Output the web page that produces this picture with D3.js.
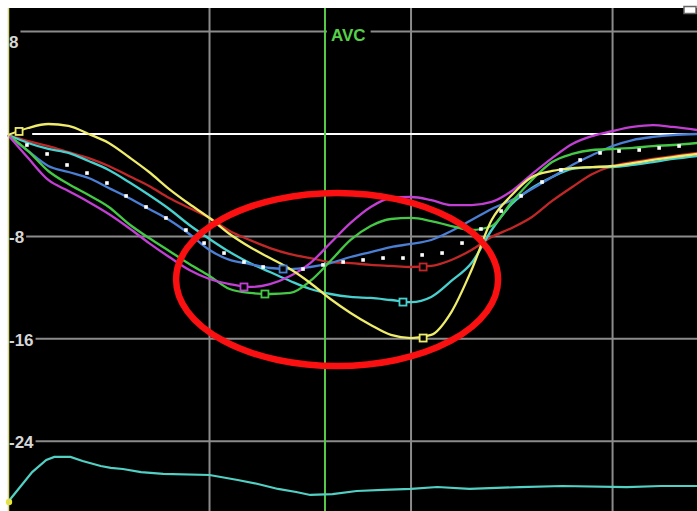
<!DOCTYPE html>
<html>
<head>
<meta charset="utf-8">
<script src="https://cdn.jsdelivr.net/npm/d3@7"></script>
<style>
  html, body { margin: 0; padding: 0; background: #fff; }
  svg { display: block; }
</style>
</head>
<body>
<svg id="chart" width="697" height="511"></svg>
<script>
// Sample times (ms) shared by the six segment curves
const timeMs = [0, 10, 20, 30, 40, 50, 60, 70, 80, 90, 100, 110, 120, 130, 140, 150, 160, 170,
                180, 190, 200, 210, 220, 230, 240, 250, 260, 270, 280, 290, 300, 310, 320, 330, 342];

// Strain (%) per segment
const yellowVals  = [-0.08, 0.47, 0.78, 0.63, 0.00, -0.70, -1.80, -2.97, -4.30, -5.47, -6.56, -7.81, -8.83, -9.69, -10.55, -11.64, -12.89, -13.98,
                     -14.92, -15.70, -15.94, -15.70, -13.91, -10.63, -6.72, -4.77, -3.36, -2.89, -2.66, -2.58, -2.50, -2.27, -2.03, -1.80, -1.56];
const magentaVals = [-0.08, -1.88, -3.59, -4.45, -5.31, -6.25, -7.34, -8.52, -9.61, -10.63, -11.33, -11.72, -11.95, -11.72, -11.09, -10.08, -8.52, -6.95,
                     -5.70, -5.00, -4.92, -5.16, -5.55, -5.55, -5.31, -4.45, -3.13, -1.88, -0.78, -0.16, 0.23, 0.55, 0.70, 0.55, 0.31];
const greenVals   = [-0.08, -1.33, -2.89, -3.91, -4.77, -5.70, -7.03, -8.13, -9.14, -10.16, -11.09, -12.11, -12.42, -12.50, -12.42, -11.48, -9.92, -8.28,
                     -7.19, -6.64, -6.56, -6.80, -7.19, -7.50, -7.19, -5.31, -3.59, -2.19, -1.56, -1.25, -1.17, -1.09, -0.94, -0.86, -0.70];
const blueVals    = [-0.08, -1.33, -2.50, -2.97, -3.44, -4.22, -5.00, -5.86, -6.72, -7.81, -9.06, -9.84, -10.16, -10.47, -10.55, -10.39, -10.08, -9.61,
                     -9.22, -8.83, -8.59, -8.28, -7.58, -6.72, -5.86, -5.16, -4.30, -3.36, -2.42, -1.64, -0.94, -0.47, -0.23, -0.08, 0.00];
const redVals     = [-0.08, -0.55, -0.94, -1.41, -1.88, -2.50, -3.28, -4.06, -5.00, -5.78, -6.56, -7.58, -8.28, -8.91, -9.38, -9.69, -10.00, -10.08,
                     -10.23, -10.31, -10.39, -10.31, -9.84, -9.06, -8.05, -7.34, -6.48, -5.23, -4.14, -3.13, -2.50, -2.19, -1.95, -1.72, -1.48];
const cyanVals    = [-0.08, -0.70, -1.17, -1.48, -2.11, -2.81, -3.75, -4.77, -5.86, -7.11, -8.20, -9.22, -10.08, -10.78, -11.48, -12.11, -12.50, -12.73,
                     -12.81, -12.97, -13.13, -12.73, -11.48, -10.08, -7.50, -5.47, -4.22, -3.36, -2.73, -2.58, -2.58, -2.42, -2.19, -1.95, -1.72];

// Global average strain (dotted)
const avgTimes = [9.4, 19.4, 29.3, 39.2, 49.1, 58.6, 68.5, 78.4, 88.3, 97.3, 107.2, 117.1, 126.6, 136.5, 146.4, 156.3, 166.3,
                  176.2, 186.1, 196.0, 205.5, 215.4, 225.3, 234.7, 244.7, 254.6, 265.0, 274.4, 283.9, 293.8, 303.2, 313.2, 323.1, 333.0];
const avgVals  = [-0.86, -1.56, -2.42, -3.05, -3.83, -4.84, -5.70, -6.56, -7.50, -8.52, -9.30, -10.00, -10.39, -10.55, -10.55, -10.23, -10.00,
                  -9.84, -9.69, -9.69, -9.45, -9.30, -8.52, -7.42, -6.02, -4.84, -3.75, -2.81, -2.03, -1.48, -1.33, -1.25, -1.09, -0.94];

// Reference trace along the bottom
const traceTimes = [0, 6, 12, 19, 23, 31, 37, 46, 51, 57, 66, 77, 100, 114, 124, 134, 143, 150, 161, 173, 186, 200, 213, 229, 254, 275, 307, 324, 342];
const traceVals  = [-28.75, -27.58, -26.41, -25.47, -25.23, -25.23, -25.55, -25.94, -26.09, -26.17, -26.41, -26.56, -26.64, -27.03, -27.34, -27.73, -27.97, -28.20,
                    -28.13, -27.89, -27.81, -27.73, -27.58, -27.73, -27.58, -27.50, -27.58, -27.50, -27.50];

// Peak markers (time, value) per segment
const peakKeys  = ["magenta", "green", "blue", "cyan", "red", "yellow", "yellow"];
const peakTimes = [117.1, 127.5, 136.5, 196.0, 206.0, 206.0, 5.5];
const peakVals  = [-11.95, -12.50, -10.55, -13.13, -10.39, -15.94, 0.20];

// Axis ticks and events
const yTicks = [8, -8, -16, -24];
const yTickLabels = ["8", "-8", "-16", "-24"];
const xGridTimes = [100, 200, 300];
const avcTime = 157.3;
const avcLabel = "AVC";

// Highlight ellipse (centre time/value, half-width in ms, half-height in %)
const ringCenter = [163.3, -11.37];
const ringRadii = [79.9, 6.76];

// ---- styling ----
const colors = {
  yellow: "#eeec6a", magenta: "#c13fd3", green: "#45c845", blue: "#4a7fd4",
  red: "#c02828", cyan: "#48d0cf"
};
const drawOrder = [
  ["red", redVals], ["cyan", cyanVals], ["blue", blueVals],
  ["green", greenVals], ["magenta", magentaVals], ["yellow", yellowVals]
];

const W = 697, H = 511, plotLeft = 8, plotTop = 8;
const x = d3.scaleLinear().domain([0, 341.9]).range([plotLeft, W]);
const y = d3.scaleLinear().domain([9.844, -29.453]).range([plotTop, H]);

const svg = d3.select("#chart");
svg.append("rect").attr("width", W).attr("height", H).attr("fill", "#fff");
svg.append("rect").attr("x", plotLeft).attr("y", plotTop)
  .attr("width", W - plotLeft).attr("height", H - plotTop).attr("fill", "#000");

// grid
const grid = svg.append("g").attr("stroke", "#8b8b8b").attr("stroke-width", 2);
yTicks.forEach(v => grid.append("line")
  .attr("x1", plotLeft).attr("x2", W).attr("y1", y(v)).attr("y2", y(v)));
xGridTimes.forEach(t => grid.append("line")
  .attr("x1", x(t)).attr("x2", x(t)).attr("y1", plotTop).attr("y2", H));

// zero line
svg.append("line").attr("x1", x(12)).attr("x2", W).attr("y1", y(0)).attr("y2", y(0))
  .attr("stroke", "#ffffff").attr("stroke-width", 2);

// y tick labels with black backing
const labelFont = "bold 17px 'Liberation Sans', Arial, sans-serif";
yTicks.forEach((v, i) => {
  const top = i === 0;
  const base = top ? y(v) + 16 : y(v) + 7;
  const g = svg.append("g");
  const t = g.append("text").attr("x", plotLeft + 1).attr("y", base)
    .style("font", labelFont).attr("fill", "#d6d6d6").text(yTickLabels[i]);
  const w = t.node().getComputedTextLength();
  g.insert("rect", "text").attr("x", plotLeft).attr("y", top ? y(v) - 4 : y(v) - 8)
    .attr("width", w + 3).attr("height", top ? 22 : 17).attr("fill", "#000");
});

// AVC marker
svg.append("line").attr("x1", x(avcTime)).attr("x2", x(avcTime)).attr("y1", plotTop).attr("y2", H)
  .attr("stroke", "#58c848").attr("stroke-width", 2);
const avcG = svg.append("g");
const avcText = avcG.append("text").attr("x", x(avcTime) + 6).attr("y", y(8) + 9)
  .style("font", labelFont).attr("fill", "#56d048").text(avcLabel);
const aw = avcText.node().getComputedTextLength();
avcG.insert("rect", "text").attr("x", x(avcTime) + 2).attr("y", y(8) - 6)
  .attr("width", aw + 9).attr("height", 16).attr("fill", "#000");

// bottom reference trace
const traceLine = d3.line().x((d, i) => x(traceTimes[i])).y(d => y(d)).curve(d3.curveLinear);
svg.append("path").datum(traceVals).attr("d", traceLine)
  .attr("fill", "none").attr("stroke", "#52d0c4").attr("stroke-width", 2.2);
svg.append("circle").attr("cx", x(traceTimes[0]) + 1).attr("cy", y(traceVals[0]))
  .attr("r", 3.2).attr("fill", "#e8e830");

// segment curves
const line = d3.line().x((d, i) => x(timeMs[i])).y(d => y(d)).curve(d3.curveMonotoneX);
drawOrder.forEach(([key, vals]) => {
  svg.append("path").datum(vals).attr("d", line)
    .attr("fill", "none").attr("stroke", colors[key]).attr("stroke-width", 2.3)
    .attr("stroke-linejoin", "round");
});

// average dots
svg.append("g").selectAll("rect").data(avgVals).join("rect")
  .attr("x", (d, i) => x(avgTimes[i]) - 1.8).attr("y", d => y(d) - 1.8)
  .attr("width", 3.6).attr("height", 3.6).attr("fill", "#ffffff");

// peak markers
svg.append("g").selectAll("rect").data(peakVals).join("rect")
  .attr("x", (d, i) => x(peakTimes[i]) - 3.5).attr("y", d => y(d) - 3.5)
  .attr("width", 7).attr("height", 7).attr("fill", "#000")
  .attr("stroke", (d, i) => colors[peakKeys[i]]).attr("stroke-width", 1.8);

// left axis line
svg.append("line").attr("x1", plotLeft + 0.5).attr("x2", plotLeft + 0.5).attr("y1", plotTop).attr("y2", H)
  .attr("stroke", "#d8d880").attr("stroke-width", 1.5);

// highlight ring
svg.append("ellipse")
  .attr("cx", x(ringCenter[0])).attr("cy", y(ringCenter[1]))
  .attr("rx", x(ringCenter[0] + ringRadii[0]) - x(ringCenter[0]))
  .attr("ry", y(ringCenter[1] - ringRadii[1]) - y(ringCenter[1]))
  .attr("fill", "none").attr("stroke", "#fa1010").attr("stroke-width", 6.5);

// window control glyph
svg.append("rect").attr("x", 684).attr("y", 6.5).attr("width", 12).attr("height", 7)
  .attr("fill", "#fff").attr("stroke", "#666").attr("stroke-width", 1.5);
</script>
</body>
</html>
